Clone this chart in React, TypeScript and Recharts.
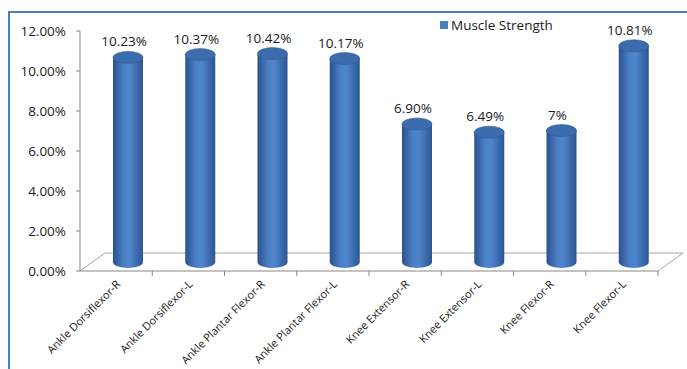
import React from 'react';
import { BarChart, Bar, XAxis, YAxis, ReferenceLine, LabelList, Legend } from 'recharts';

const muscles = [
  'Ankle Dorsiflexor-R',
  'Ankle Dorsiflexor-L',
  'Ankle Plantar Flexor-R',
  'Ankle Plantar Flexor-L',
  'Knee Extensor-R',
  'Knee Extensor-L',
  'Knee Flexor-R',
  'Knee Flexor-L',
];
// bar heights as drawn (the "7%" bar is drawn a little below the 6.90% one)
const strength = [10.23, 10.37, 10.42, 10.17, 6.9, 6.49, 6.57, 10.81];
const strengthLabels = ['10.23%', '10.37%', '10.42%', '10.17%', '6.90%', '6.49%', '7%', '10.81%'];
const yTicks = [0, 2, 4, 6, 8, 10, 12];

const chartData = muscles.map((name, i) => ({ name, strength: strength[i], label: strengthLabels[i] }));

const FONT = '"Open Sans", "Liberation Sans", sans-serif';
// 3D look: floor depth and the bars sitting half way into it
const DEPTH_X = 25;
const DEPTH_Y = 18;
const BAR_DX = 12;
const BAR_DY = -9;
const CAP = 6;

const Cylinder = (props: any) => {
  const { x, y, width, height, index } = props;
  if (x == null || y == null) return null;
  const left = x + BAR_DX;
  const top = y + BAR_DY;
  const bottom = y + height + BAR_DY;
  const rx = width / 2;
  const id = `cyl-grad-${index}`;
  return (
    <g>
      <defs>
        <linearGradient id={id} x1="0" y1="0" x2="1" y2="0">
          <stop offset="0%" stopColor="#2a5190" />
          <stop offset="35%" stopColor="#4a7fc4" />
          <stop offset="55%" stopColor="#4f86cc" />
          <stop offset="100%" stopColor="#2c5694" />
        </linearGradient>
      </defs>
      <path
        d={`M${left},${top} L${left},${bottom} A${rx},${CAP} 0 0 0 ${left + width},${bottom} L${left + width},${top} Z`}
        fill={`url(#${id})`}
      />
      <ellipse cx={left + rx} cy={top} rx={rx} ry={CAP} fill="#3d6cae" stroke="#2f5a95" strokeWidth={0.6} />
    </g>
  );
};

// floor of the 3D plot, drawn from the y=0 reference line
const Floor = (props: any) => {
  const { x1, y1, x2, y2 } = props;
  const step = (x2 - x1) / muscles.length;
  return (
    <g>
      <path
        d={`M${x1},${y1} L${x1 + DEPTH_X},${y1 - DEPTH_Y} L${x2 + DEPTH_X},${y2 - DEPTH_Y} L${x2},${y2}`}
        fill="none"
        stroke="#a6a6a6"
      />
      <line x1={x1} y1={y1} x2={x2} y2={y2} stroke="#868686" />
      {muscles.map((m, i) => (
        <line key={m} x1={x1 + step * (i + 1)} y1={y1} x2={x1 + step * (i + 1)} y2={y1 + 5} stroke="#868686" />
      ))}
    </g>
  );
};

const CategoryTick = (props: any) => {
  const { x, y, payload } = props;
  const tx = x + 5;
  const ty = y + 14;
  return (
    <text x={tx} y={ty} transform={`rotate(-45 ${tx} ${ty})`} textAnchor="end" fontSize={11} fontFamily={FONT} fill="#1a1a1a">
      {payload.value}
    </text>
  );
};

const ValueLabel = (props: any) => {
  const { x, y, width, value } = props;
  return (
    <text x={x + width / 2 + BAR_DX - 4} y={y + BAR_DY - CAP - 5} textAnchor="middle" fontSize={13.5} fontFamily={FONT} fill="#1a1a1a">
      {value}
    </text>
  );
};

const LegendBox = () => (
  <div style={{ display: 'flex', alignItems: 'center', fontSize: 13.5, fontFamily: FONT, color: '#1a1a1a', whiteSpace: 'nowrap' }}>
    <span style={{ display: 'inline-block', width: 8, height: 8, background: '#4a7ebb', marginRight: 3 }} />
    Muscle Strength
  </div>
);

export default function App() {
  return (
    <div
      style={{
        position: 'absolute',
        left: 8,
        top: 11,
        width: 679,
        height: 358,
        boxSizing: 'border-box',
        borderTop: '2px solid #4a7ebb',
        borderLeft: '2px solid #4a7ebb',
        background: '#ffffff',
        overflow: 'hidden',
      }}
    >
      <BarChart width={677} height={356} data={chartData} margin={{ top: 18, right: 29, bottom: 0, left: 0 }}>
        <XAxis dataKey="name" height={98} interval={0} axisLine={false} tickLine={false} tickSize={0} tickMargin={0} tick={<CategoryTick />} />
        <YAxis
          width={70}
          domain={[0, 12]}
          ticks={yTicks}
          tickFormatter={(v) => `${v.toFixed(2)}%`}
          tickSize={4}
          tickMargin={10}
          axisLine={{ stroke: '#868686' }}
          tickLine={{ stroke: '#868686' }}
          tick={{ fontSize: 13.5, fontFamily: FONT, fill: '#1a1a1a' }}
        />
        <ReferenceLine y={0} shape={<Floor />} zIndex={-100} />
        <Bar dataKey="strength" barSize={30} shape={<Cylinder />} isAnimationActive={false}>
          <LabelList dataKey="label" content={<ValueLabel />} />
        </Bar>
        <Legend
          layout="horizontal"
          verticalAlign="middle"
          align="center"
          wrapperStyle={{ top: 3, left: 430, width: 'auto' }}
          content={<LegendBox />}
        />
      </BarChart>
    </div>
  );
}
